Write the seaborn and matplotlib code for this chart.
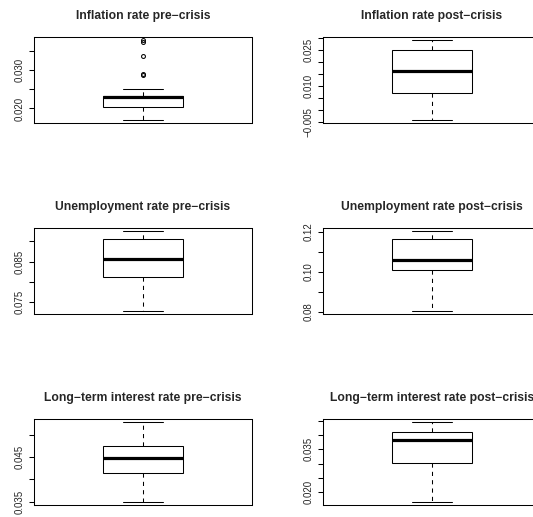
import matplotlib
matplotlib.use("Agg")
import matplotlib.pyplot as plt
import seaborn as sns

# panel titles (R draws the hyphen as a minus sign)
titles = [
    "Inflation rate pre\u2212crisis", "Inflation rate post\u2212crisis",
    "Unemployment rate pre\u2212crisis", "Unemployment rate post\u2212crisis",
    "Long\u2212term interest rate pre\u2212crisis", "Long\u2212term interest rate post\u2212crisis",
]

infl_pre = [0.0171, 0.0185, 0.0192, 0.0197, 0.0200, 0.0203, 0.0204, 0.0208, 0.0213,
            0.0218, 0.0222, 0.0226, 0.0230, 0.0230, 0.0231, 0.0231, 0.0231, 0.0232,
            0.0232, 0.0250, 0.0289, 0.0290, 0.0339, 0.0374, 0.0380]
infl_post = [-0.0041, 0.0020, 0.0068, 0.0110, 0.0162, 0.0200, 0.0250, 0.0270, 0.0291]
unemp_pre = [0.0729, 0.0780, 0.0813, 0.0835, 0.0857, 0.0880, 0.0906, 0.0915, 0.0926]
unemp_post = [0.0805, 0.0920, 0.1010, 0.1035, 0.1059, 0.1110, 0.1163, 0.1185, 0.1205]
ltir_pre = [0.0350, 0.0385, 0.0414, 0.0430, 0.0447, 0.0460, 0.0474, 0.0500, 0.0528]
ltir_post = [0.0166, 0.0240, 0.0301, 0.0345, 0.0384, 0.0398, 0.0410, 0.0430, 0.0445]

# y ticks and the labels R kept after dropping overlapping ones
ticks = [
    [0.020, 0.025, 0.030, 0.035],
    [-0.005, 0.0, 0.005, 0.010, 0.015, 0.020, 0.025, 0.030],
    [0.075, 0.080, 0.085, 0.090],
    [0.08, 0.09, 0.10, 0.11, 0.12],
    [0.035, 0.040, 0.045, 0.050],
    [0.020, 0.025, 0.030, 0.035, 0.040, 0.045],
]
tick_labels = [
    ["0.020", "", "0.030", ""],
    ["\u22120.005", "", "", "0.010", "", "", "0.025", ""],
    ["0.075", "", "0.085", ""],
    ["0.08", "", "0.10", "", "0.12"],
    ["0.035", "", "0.045", ""],
    ["0.020", "", "", "0.035", "", ""],
]

data = [infl_pre, infl_post, unemp_pre, unemp_post, ltir_pre, ltir_post]

sns.set_style("white")
plt.rcParams["font.family"] = ["Liberation Sans", "DejaVu Sans"]

fig = plt.figure(figsize=(5.33, 5.17), dpi=100)
FW, FH = 533, 517
col_left = [34.3, 323.3]
row_top = [36.7, 227.8, 419.0]
W, H = 217.2, 86.0

for i, vals in enumerate(data):
    r, c = divmod(i, 2)
    ax = fig.add_axes([col_left[c] / FW, 1 - (row_top[r] + H) / FH, W / FW, H / FH])
    sns.boxplot(y=vals, ax=ax, width=0.4, color="white", linecolor="black",
                linewidth=0.75, saturation=1,
                whiskerprops=dict(linestyle=(0, (4, 4))),
                medianprops=dict(linewidth=2.3),
                flierprops=dict(marker="o", markersize=2.8, markerfacecolor="none",
                                markeredgecolor="black", markeredgewidth=0.75))
    lo, hi = min(vals), max(vals)
    pad = 0.04 * (hi - lo)
    ax.set_ylim(lo - pad, hi + pad)
    ax.set_xlim(-0.54, 0.54)
    ax.set_xticks([])
    ax.set_ylabel("")
    ax.set_yticks(ticks[i])
    ax.set_yticklabels(tick_labels[i], rotation=90, va="center")
    ax.tick_params(axis="y", left=True, length=3.6, width=0.75, pad=3.5,
                   labelsize=7.0, color="black")
    for s in ax.spines.values():
        s.set_color("black")
        s.set_linewidth(0.75)
    ax.set_title(titles[i], fontsize=8.7, fontweight="bold", pad=13)

fig.savefig("out.png", dpi=100)
